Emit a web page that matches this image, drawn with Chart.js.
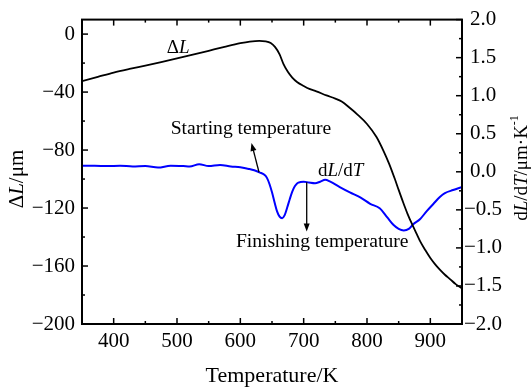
<!DOCTYPE html>
<html lang="en">
<head>
<meta charset="UTF-8" />
<title>Dilatometric curve</title>
<script src="https://cdn.jsdelivr.net/npm/chart.js"></script>
<style>
  html, body { margin: 0; padding: 0; background: #fff; }
  #wrap { width: 531px; height: 391px; }
</style>
</head>
<body>
<div id="wrap"><canvas id="dil" width="531" height="391"></canvas></div>
<script>
// ── values ──────────────────────────────────────────────────
const tempL  = [350, 375, 400, 425, 450, 475, 500, 525, 550, 575, 600, 615, 630, 640, 648, 655, 662, 668, 675, 682, 690, 700, 710, 720, 736, 750, 760, 773, 785, 800, 815, 826, 835, 844, 850, 857, 864, 871, 878, 884, 892, 900, 907, 915, 923, 931, 940, 950];
const deltaL = [-32.5, -29.5, -26.5, -24, -21.7, -19.3, -16.8, -14.2, -11.5, -8.8, -6.3, -5.2, -4.7, -5.0, -6.2, -9, -14, -20.5, -26, -30, -33.2, -35.8, -38, -39.5, -42.3, -44.5, -46.5, -51, -55.5, -62, -71, -80.5, -89.5, -100, -107.5, -116, -124, -131, -137.5, -143, -149, -154.5, -158.5, -162.5, -166, -169, -172.5, -175.5];

const tempD = [350, 370, 390, 410, 430, 450, 470, 490, 510, 520, 535, 550, 568, 585, 600, 612, 622, 631, 638, 642, 646, 650, 654, 658, 662, 666, 670, 674, 678, 682, 686, 690, 695, 700, 708, 718, 726, 734, 742, 757, 773, 790, 805, 820, 832, 842, 850, 858, 866, 873, 884, 894, 905, 915, 923, 936, 950];
const dLdT  = [0.08, 0.08, 0.075, 0.08, 0.07, 0.075, 0.055, 0.08, 0.075, 0.07, 0.10, 0.075, 0.09, 0.07, 0.06, 0.04, 0.02, -0.01, -0.04, -0.08, -0.16, -0.27, -0.40, -0.52, -0.59, -0.61, -0.57, -0.47, -0.36, -0.26, -0.19, -0.15, -0.135, -0.13, -0.14, -0.15, -0.13, -0.105, -0.13, -0.2, -0.27, -0.34, -0.42, -0.48, -0.6, -0.70, -0.75, -0.77, -0.75, -0.69, -0.62, -0.52, -0.42, -0.33, -0.28, -0.24, -0.20];

const xTicks      = [400, 500, 600, 700, 800, 900];
const xMinor      = [350, 450, 550, 650, 750, 850, 950];
const yLeftTicks  = [0, -40, -80, -120, -160, -200];
const yLeftMinor  = [-20, -60, -100, -140, -180];
const yRightTicks = [2, 1.5, 1, 0.5, 0, -0.5, -1, -1.5, -2];
const yRightMinor = [1.75, 1.25, 0.75, 0.25, -0.25, -0.75, -1.25, -1.75];

const FONT = "'Liberation Serif', 'Times New Roman', serif";
const minus = v => String(v).replace('-', '\u2212');

// draw a run of text pieces, some italic, some superscript
function rich(ctx, parts, x, y, size, align) {
  const f = p => `${p.i ? 'italic ' : ''}${p.sup ? Math.round(size * 0.62) : size}px ${FONT}`;
  let w = 0;
  parts.forEach(p => { ctx.font = f(p); w += ctx.measureText(p.t).width; });
  let cx = align === 'center' ? x - w / 2 : x;
  ctx.textAlign = 'left';
  ctx.textBaseline = 'middle';
  parts.forEach(p => {
    ctx.font = f(p);
    ctx.fillText(p.t, cx, y - (p.sup ? size * 0.38 : 0));
    cx += ctx.measureText(p.t).width;
  });
}

function arrow(ctx, x1, y1, x2, y2) {
  const ang = Math.atan2(y2 - y1, x2 - x1), L = 8, W = 3;
  ctx.beginPath();
  ctx.moveTo(x1, y1);
  ctx.lineTo(x2 - Math.cos(ang) * L * 0.8, y2 - Math.sin(ang) * L * 0.8);
  ctx.stroke();
  ctx.beginPath();
  ctx.moveTo(x2, y2);
  ctx.lineTo(x2 - Math.cos(ang) * L - Math.sin(ang) * W, y2 - Math.sin(ang) * L + Math.cos(ang) * W);
  ctx.lineTo(x2 - Math.cos(ang) * L + Math.sin(ang) * W, y2 - Math.sin(ang) * L - Math.cos(ang) * W);
  ctx.closePath();
  ctx.fill();
}

const decor = {
  id: 'decor',
  afterDraw(chart) {
    const { ctx, chartArea: a, scales: { x, y, y2 } } = chart;
    ctx.save();
    ctx.strokeStyle = '#000';
    ctx.fillStyle = '#000';

    // frame
    ctx.lineWidth = 2;
    ctx.strokeRect(a.left, a.top, a.right - a.left, a.bottom - a.top);

    // inward ticks
    ctx.lineWidth = 1.5;
    const tick = (x1, y1, x2, y2) => { ctx.beginPath(); ctx.moveTo(x1, y1); ctx.lineTo(x2, y2); ctx.stroke(); };
    xTicks.forEach(v => { const p = x.getPixelForValue(v); tick(p, a.bottom, p, a.bottom - 6); tick(p, a.top, p, a.top + 6); });
    xMinor.forEach(v => { const p = x.getPixelForValue(v); tick(p, a.bottom, p, a.bottom - 3); tick(p, a.top, p, a.top + 3); });
    yLeftTicks.forEach(v => { const p = y.getPixelForValue(v); tick(a.left, p, a.left + 6, p); });
    yLeftMinor.forEach(v => { const p = y.getPixelForValue(v); tick(a.left, p, a.left + 3, p); });
    yRightTicks.forEach(v => { const p = y2.getPixelForValue(v); tick(a.right, p, a.right - 6, p); });
    yRightMinor.forEach(v => { const p = y2.getPixelForValue(v); tick(a.right, p, a.right - 3, p); });

    // axis titles
    rich(ctx, [{ t: 'Temperature/K' }], (a.left + a.right) / 2, a.bottom + 52, 22, 'center');
    ctx.save();
    ctx.translate(17, y.getPixelForValue(-100));
    ctx.rotate(-Math.PI / 2);
    rich(ctx, [{ t: '\u0394' }, { t: 'L', i: true }, { t: '/\u03bcm' }], 0, 0, 21, 'center');
    ctx.restore();
    ctx.save();
    ctx.translate(522, y2.getPixelForValue(0.05));
    ctx.rotate(-Math.PI / 2);
    rich(ctx, [{ t: 'd' }, { t: 'L', i: true }, { t: '/d' }, { t: 'T', i: true }, { t: '/\u03bcm\u00b7K' }, { t: '-1', sup: true }], 0, 0, 19, 'center');
    ctx.restore();

    // annotations
    rich(ctx, [{ t: '\u0394' }, { t: 'L', i: true }], x.getPixelForValue(484), y.getPixelForValue(-9.3), 19, 'left');
    rich(ctx, [{ t: 'Starting temperature' }], x.getPixelForValue(490), y2.getPixelForValue(0.563), 19.6, 'left');
    rich(ctx, [{ t: 'd' }, { t: 'L', i: true }, { t: '/d' }, { t: 'T', i: true }], x.getPixelForValue(722.6), y2.getPixelForValue(0.006), 19, 'left');
    rich(ctx, [{ t: 'Finishing temperature' }], x.getPixelForValue(593), y2.getPixelForValue(-0.926), 19.6, 'left');

    ctx.lineWidth = 1.3;
    arrow(ctx, x.getPixelForValue(629.5), y2.getPixelForValue(-0.006), x.getPixelForValue(617.6), y2.getPixelForValue(0.38));
    arrow(ctx, x.getPixelForValue(704.8), y2.getPixelForValue(-0.136), x.getPixelForValue(704.8), y2.getPixelForValue(-0.783));
    ctx.restore();
  }
};

const tickFont = { family: FONT, size: 21 };

new Chart(document.getElementById('dil'), {
  type: 'line',
  data: {
    datasets: [
      {
        label: '\u0394L',
        data: tempL.map((t, i) => ({ x: t, y: deltaL[i] })),
        yAxisID: 'y',
        borderColor: '#000',
        borderWidth: 1.8,
        pointRadius: 0,
        cubicInterpolationMode: 'monotone'
      },
      {
        label: 'dL/dT',
        data: tempD.map((t, i) => ({ x: t, y: dLdT[i] })),
        yAxisID: 'y2',
        borderColor: '#0000ff',
        borderWidth: 2,
        pointRadius: 0,
        cubicInterpolationMode: 'monotone'
      }
    ]
  },
  options: {
    responsive: false,
    animation: false,
    layout: { padding: { top: 15, left: 0, right: 0, bottom: 0 } },
    plugins: { legend: { display: false }, tooltip: { enabled: false } },
    scales: {
      x: {
        type: 'linear',
        min: 350, max: 950,
        grid: { display: false, drawTicks: false },
        border: { display: false },
        afterBuildTicks: s => { s.ticks = xTicks.map(v => ({ value: v })); },
        afterFit: s => { s.height = 67; },
        ticks: { color: '#000', font: tickFont, padding: 5, maxRotation: 0, callback: v => v }
      },
      y: {
        position: 'left',
        min: -200, max: 10,
        grid: { display: false, drawTicks: false },
        border: { display: false },
        afterBuildTicks: s => { s.ticks = yLeftTicks.map(v => ({ value: v })); },
        afterFit: s => { s.width = 82; },
        ticks: { color: '#000', font: tickFont, padding: 7, callback: v => minus(v) }
      },
      y2: {
        position: 'right',
        min: -2, max: 2,
        grid: { display: false, drawTicks: false },
        border: { display: false },
        afterBuildTicks: s => { s.ticks = yRightTicks.map(v => ({ value: v })); },
        afterFit: s => { s.width = 69; },
        ticks: { color: '#000', font: tickFont, padding: 2, crossAlign: 'center', callback: v => minus(v.toFixed(1)) }
      }
    }
  },
  plugins: [decor]
});
</script>
</body>
</html>
